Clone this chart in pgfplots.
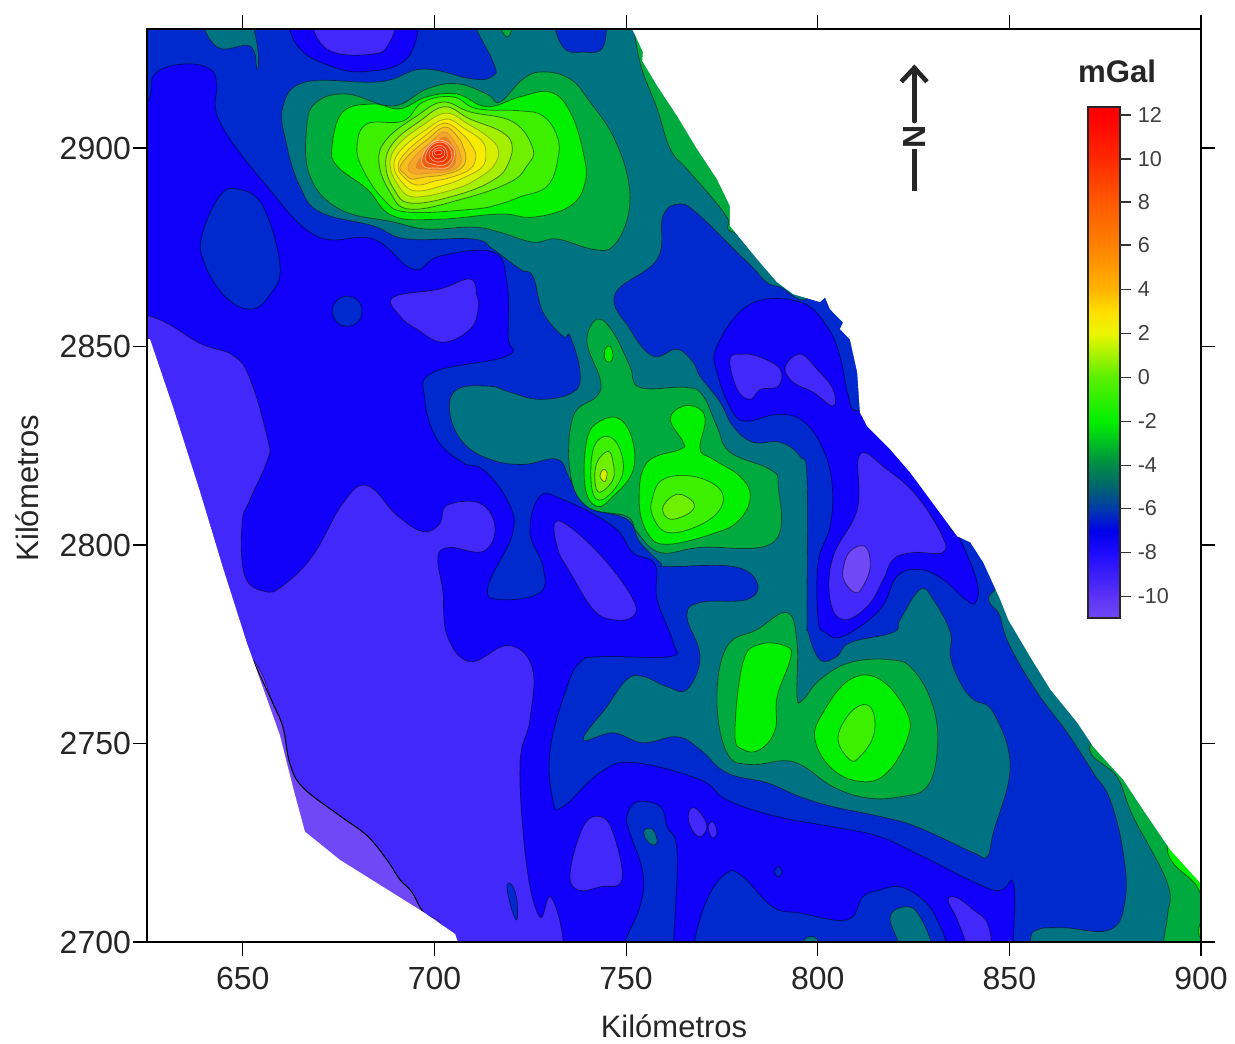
\documentclass[border=0pt]{standalone}
\usepackage{pgfplots}
\pgfplotsset{compat=1.18}
\usepackage{fontspec}
\setmainfont{Liberation Sans}
\definecolor{vio2}{RGB}{112,72,245}
\definecolor{vio}{RGB}{66,40,250}
\definecolor{blu}{RGB}{16,0,250}
\definecolor{dkb}{RGB}{0,42,205}
\definecolor{tea}{RGB}{0,115,130}
\definecolor{gre}{RGB}{0,170,62}
\definecolor{bri}{RGB}{0,240,0}
\definecolor{lim}{RGB}{60,240,0}
\definecolor{r1}{RGB}{110,240,0}
\definecolor{r2}{RGB}{165,240,0}
\definecolor{r3}{RGB}{215,240,0}
\definecolor{r4}{RGB}{248,236,0}
\definecolor{r5}{RGB}{250,215,15}
\definecolor{r6}{RGB}{248,190,30}
\definecolor{r7}{RGB}{245,165,40}
\definecolor{r8}{RGB}{242,130,30}
\definecolor{r9}{RGB}{240,95,15}
\definecolor{r10}{RGB}{240,65,5}
\definecolor{r11}{RGB}{240,50,0}
\definecolor{r12}{RGB}{240,40,0}
\definecolor{r13}{RGB}{245,30,0}
\colorlet{oli}{olive!65!black}
\pgfdeclareverticalshading{grav}{100bp}{
 rgb(0bp)=(.44,.28,.96); rgb(25bp)=(.44,.28,.96);
 rgb(27.1bp)=(.353,.196,.961); rgb(31.4bp)=(.118,.039,1); rgb(33.5bp)=(0,0,.922);
 rgb(35.7bp)=(0,.235,.667); rgb(37.8bp)=(0,.392,.431); rgb(40bp)=(0,.549,.275);
 rgb(44.2bp)=(0,.941,0); rgb(48.5bp)=(.353,.941,0); rgb(52.8bp)=(.922,.961,0);
 rgb(54.9bp)=(1,.882,0); rgb(57.1bp)=(1,.706,0); rgb(61.3bp)=(1,.51,0);
 rgb(65.6bp)=(1,.353,0); rgb(69.9bp)=(1,.157,0); rgb(74.1bp)=(1,0,0);
 rgb(75bp)=(1,0,0); rgb(100bp)=(1,0,0)}
\newcommand\R[3][black]{\addplot[fill=#2,draw=#1,draw opacity=.5,line width=.4pt,smooth cycle,tension=.68] coordinates {#3};}
\begin{document}
\begin{tikzpicture}
\useasboundingbox (-73.5pt,-50.5pt) rectangle (544pt,471pt);
\begin{axis}[
  at={(0,0)},anchor=south west,scale only axis,width=527pt,height=456.5pt,
  xmin=625,xmax=900,ymin=2700,ymax=2930,
  axis on top,no marks,
  xtick={650,700,750,800,850,900},ytick={2700,2750,2800,2850,2900},
  tick align=outside,major tick length=7pt,
  xtick pos=both,ytick pos=both,xticklabel pos=bottom,yticklabel pos=left,
  tick style={black,line width=.6pt},axis line style={line width=.6pt},
  /pgf/number format/assume math mode=true,
  /pgf/number format/1000 sep={},
  tick label style={font=\fontsize{16}{18}\selectfont,text=black!85},
  x tick label style={yshift=-2pt},
  y tick label style={xshift=2.5pt},
  xlabel={Kilómetros},ylabel={Kilómetros},
  label style={font=\fontsize{15.5}{18}\selectfont,text=black!85,inner sep=0pt},
  x label style={at={(axis description cs:0.5,-0.0925)},anchor=center},
  y label style={at={(axis description cs:-0.1139,0.497)},anchor=center},
]
% base
\addplot[fill=blu,draw=none] coordinates {(620,2695)(905,2695)(905,2935)(620,2935)} -- cycle;
% violet main
\R{vio}{(600,2862)(625,2857.9)(638.8,2850.8)(647.4,2847.8)(651.9,2841.8)(656.5,2826.6)(656.5,2821.6)(651.9,2811.5)(649.8,2805.4)(650.5,2792.3)(655.8,2788.3)(660.5,2789.8)(668.3,2797.4)(676.1,2810.5)(682.4,2815)(690.2,2807.5)(697,2803.4)(701.4,2805.4)(703.3,2810)(711.9,2810.5)(715.8,2804.4)(712.7,2798.4)(704,2799.4)(700.9,2796.9)(702.2,2788.3)(703.3,2777.2)(709.3,2770.6)(719.2,2774.7)(725.5,2769.1)(724.9,2756)(722.3,2744.2)(724.1,2718.9)(727.5,2706.3)(730.2,2711.4)(733.3,2702.3)(733.5,2690)(733,2680)(600,2680)}
% lightest strip
\R[black]{vio2}{(652.6,2771.1)(657.9,2760)(660.5,2754)(662.3,2744.9)(665.7,2738.9)(675.3,2731.8)(682.4,2726.8)(687.6,2720.7)(691,2715.7)(694.1,2712.6)(697,2707.6)(701.4,2703)(690,2690)(640,2700)(640,2780)}
\addplot[black,line width=.45pt,smooth,tension=.6] coordinates {(652.6,2771.1)(657.9,2760)(660.5,2754)(662.3,2744.9)(665.7,2738.9)(675.3,2731.8)(682.4,2726.8)(687.6,2720.7)(691,2715.7)(694.1,2712.6)(697,2707.6)(701.4,2703)};
\R{dkb}{(718.9,2713.9)(720.2,2714.4)(721.5,2710.6)(721.5,2705.6)(720.2,2708.1)}
% dark blue, main
\R{dkb}{(600,2910)(623,2910.4)(627,2918.7)(634.9,2921.2)(641.4,2919.9)(643.2,2916.2)(644,2906.6)(656.3,2890.4)(669.3,2877.8)(684,2877.1)(694.4,2869.5)(701.4,2872.8)(715.3,2873.8)(718.9,2866.2)(719.2,2852.6)(718.9,2847.6)(699.6,2843.5)(697.5,2836.7)(700.7,2826.6)(707.4,2820.8)(712.7,2819)(718.9,2811.5)(720.5,2803.2)(714,2789.6)(717.1,2786.3)(727.5,2788)(728.3,2794.6)(724.9,2803.2)(727.5,2812.3)(733.5,2811.5)(746.6,2804.7)(751.8,2798.1)(757.6,2795.1)(758.1,2786.3)(762.3,2775.4)(761.5,2771.9)(743.2,2771.9)(738,2770.4)(734.6,2764.3)(730.2,2748.5)(730.9,2735.8)(733.5,2734.1)(743.2,2742.7)(751.8,2745.2)(769.3,2740.9)(776.3,2735.8)(789.4,2731.6)(804,2729)(816.3,2726.5)(827.5,2721.5)(845.8,2713.1)(851,2714.9)(851,2698)(851,2680)(930,2680)(930,2960)(600,2960)}
% bright blue windows
\R{blu}{(661,2945)(661,2935)(664.9,2925)(675.3,2919.9)(683.2,2919.4)(691,2921.2)(694.9,2926.3)(696.2,2935)(696.2,2945)}
\R{blu}{(773.7,2850.1)(774,2842.5)(777.9,2833.4)(781.6,2831.2)(789.4,2832.9)(796.2,2831.2)(801.4,2824.1)(803.8,2814.8)(803.2,2804.7)(800.1,2795.6)(800.1,2781.2)(801.9,2778)(806.6,2777)(816.3,2783.8)(820.7,2792.1)(826.7,2793.8)(832.7,2791.3)(838.5,2786.3)(841.1,2785.5)(841.6,2790.6)(837.2,2801.4)(834.6,2805.2)(842,2812)(822,2838)(810.6,2833.8)(807.9,2838)(805.8,2847.6)(802.4,2855.1)(795.4,2861.2)(782.4,2860.7)}
% violet
\R{vio}{(666.7,2940)(666.7,2935)(671.9,2925)(684,2923.7)(688.4,2926.8)(691,2935)(691,2940)}
\R{vio}{(777.1,2846.8)(780.5,2848.1)(785,2847.3)(790.2,2844.3)(789.7,2840)(785,2839.2)(782.4,2836.7)(779,2839.2)}
\R{vio}{(791.5,2844.8)(795.4,2848.1)(799.8,2844.3)(804,2839.2)(804,2835)(798.8,2838.5)(793.6,2841)}
\R{vio}{(811,2822.8)(818.1,2819)(825.9,2812.3)(832.5,2802.2)(832.5,2798.1)(824.9,2798.1)(819.7,2796.4)(817.1,2791.3)(812.9,2784.5)(806.6,2781.2)(803.2,2786.3)(804,2797.1)(810.3,2809)}
\R{vio2}{(806.6,2793.8)(808.4,2798.4)(812.4,2799.6)(813.7,2794.6)(811.8,2789.6)(809.8,2788)(807.1,2790.6)}
\R{vio}{(689.2,2862.4)(701.4,2864.5)(709.3,2867)(711.1,2862.7)(711.4,2859.4)(709.3,2854.4)(702.2,2851.1)(695.4,2854.4)(691,2857.7)}
\R{vio}{(731.5,2805.7)(736.2,2803.9)(745,2795.6)(751.8,2786.3)(751.8,2782)(746.6,2781.2)(741.4,2783.8)(735.4,2793.1)(732.2,2798.9)}
% dark blue patches on bright blue
\R{dkb}{(639.6,2878.8)(644,2887.9)(648.5,2889.7)(655.2,2885.4)(659.7,2870.3)(657,2863)(651.9,2859.4)(645,2863)(639.6,2872)}
\R{dkb}{(673.3,2858.9)(674.5,2861.6)(677.2,2862.7)(680,2861.6)(681.1,2858.9)(680,2856.2)(677.2,2855.1)(674.5,2856.2)}
\R{dkb}{(750.2,2731.6)(752.9,2735.3)(758.9,2734.1)(760.7,2729)(763.3,2722.5)(762.3,2698)(762,2685)(749,2685)(749.2,2698)(753.6,2708.8)(754.4,2717.4)(751,2727.5)}
\R{tea}{(754.9,2728.3)(757,2728.3)(758.1,2725.2)(756.8,2724.5)(754.9,2726.3)}
\R{dkb}{(767.5,2698)(771.1,2710.6)(776.3,2717.4)(780.5,2716.4)(788.3,2708.8)(795.4,2707.3)(807.7,2705.6)(811.8,2711.4)(816.3,2713.1)(821.5,2713.9)(827.5,2710.6)(831.1,2705.6)(833.8,2698)(834,2685)(767,2685)}
\R{tea}{(818.9,2706.3)(823.3,2708.9)(826.7,2706.3)(830.1,2698)(830,2690)(821,2690)(821.5,2698)}
\R{tea}{(795.5,2698)(797,2701)(799.5,2701)(801,2698)}
\R{vio}{(834,2710.6)(836.4,2711.1)(840.6,2708.1)(844.2,2704.8)(845.5,2698)(845.5,2690)(839,2690)(839,2698)(836.4,2705.6)}
\R{vio}{(735.4,2717.4)(738.8,2729)(743.2,2731.6)(746.6,2727.5)(748.9,2715.7)(743.2,2713.9)(737.5,2713.1)}
\R{vio}{(766.2,2731.6)(767.2,2733.8)(769.3,2732.6)(771.1,2729)(769.3,2726.5)(767.2,2728.3)}
\R{vio}{(771.4,2729)(772.7,2730.3)(773.7,2727.5)(772.4,2726.3)}
\R{dkb}{(788.7,2717.7)(789.7,2719)(790.7,2717.7)(789.7,2716.4)}
% teal
\R{tea}{(638,2940)(638,2935)(643.2,2925.5)(651.9,2925.7)(653.7,2919.9)(653.9,2925)(651.9,2935)(651.9,2940)}
\R{tea}{(708.7,2945)(708.7,2935)(715.3,2921.7)(715.3,2918.2)(710,2917.4)(697,2919.9)(685.8,2916.7)(666.7,2916.7)(660.5,2910.6)(661.5,2900.5)(664.9,2890.4)(670.1,2883.9)(684,2880.4)(692.8,2877.1)(710,2877.1)(715.3,2874.5)(722.3,2869.5)(725.7,2867.7)(728.3,2858.7)(733.5,2852.6)(735.4,2852.6)(738,2843.5)(736.2,2838.5)(727.5,2836.7)(719.7,2838.5)(714.5,2840)(705.9,2839.2)(704,2833.4)(707.4,2825.9)(714.5,2821.6)(723.1,2820.3)(732,2821.6)(735.4,2816.5)(739.8,2809.7)(750.2,2806.5)(753.6,2800.7)(758.9,2795.6)(760.7,2794.6)(777.9,2794.6)(784.2,2790.6)(781.6,2786.3)(769.3,2785.5)(765.9,2782)(769.3,2771.9)(765.9,2763.6)(760.7,2764.3)(754.4,2766.9)(750.2,2766.1)(745,2759.3)(738.8,2751)(746.6,2752.7)(754.4,2750.2)(763.3,2751.7)(769.3,2748.5)(776.3,2742.6)(786.8,2740.1)(795.4,2736.6)(804,2734.1)(816.3,2731.6)(825.9,2729)(840.6,2722.5)(844.2,2721.5)(845.8,2727.5)(850.2,2744.2)(845.8,2757.8)(840.6,2761.1)(837.2,2765.3)(834.6,2771.9)(834.6,2778)(830.1,2786.3)(826.7,2788.8)(821.5,2781.2)(819.7,2778)(808.4,2775.4)(805,2771.9)(800.6,2771.1)(797.5,2778)(797.2,2783)(797.2,2816.5)(795.4,2822.3)(790.2,2825.9)(783.1,2825.9)(777.9,2829.9)(774.5,2836)(769.3,2842.5)(767.5,2846)(763.3,2849.3)(757,2847.6)(751,2854.4)(747.1,2863.2)(758.1,2872)(759.6,2882.9)(764.1,2885.9)(769.3,2882.9)(781.6,2871.3)(789.4,2865.2)(800,2870)(800,2945)}
\R{dkb}{(730.2,2940)(730.2,2935)(733.5,2925.5)(738.8,2924.2)(744,2925.5)(745,2935)(745,2940)}
\R{gre}{(715.3,2940)(715.3,2935)(719,2928)(721.4,2935)(721.4,2940)}
% SE strips
\R{tea}{(846.3,2788.8)(847.6,2782)(850.2,2774.4)(857.3,2762.8)(865.1,2752.7)(871.9,2742.6)(876.3,2735.8)(879.7,2722.5)(880.2,2710.6)(876.3,2703.1)(864,2703.6)(857.3,2703.1)(855.4,2700)(855.4,2690)(855,2680)(930,2680)(930,2800)(870,2800)}
\R{gre}{(871.1,2749.7)(878.1,2741.6)(882.3,2731.6)(891.2,2714.9)(891.2,2706.3)(890.1,2698)(890,2680)(930,2680)(930,2760)(885,2762)}
\R{bri}{(891.2,2724)(899,2713.9)(900.6,2708)(902,2700)(930,2700)(930,2740)(900,2740)}
\R{gre}{(751.6,2945)(751.6,2935)(753.6,2921.7)(758.1,2909.9)(761.5,2899.8)(765.9,2894.7)(772.7,2887.2)(776.6,2882.1)(777.6,2879)(790,2878)(800,2900)(775,2945)}
% top anomaly
\R{gre}{(666.7,2905.6)(669.3,2911.6)(677.2,2913.6)(689.2,2910.6)(698,2914.9)(705.9,2916.2)(713.7,2913.6)(717.1,2911.6)(723.1,2917.4)(728.3,2919.2)(735.4,2917.4)(740.6,2911.6)(746.6,2903)(750.5,2892.2)(750.5,2882.9)(746.6,2875.3)(741.4,2874.5)(732,2877.1)(725.7,2876.3)(717.1,2878.8)(710,2880.1)(698,2879.6)(689.2,2881.4)(675.3,2884.6)(667.5,2893)}
\R{bri}{(673.3,2900.5)(676.1,2909.1)(684,2911.1)(691,2909.9)(698,2912.9)(705.9,2913.6)(713.7,2910.4)(722.3,2912.9)(730.2,2914.1)(735.4,2909.1)(738.8,2899)(739.3,2891.4)(735.4,2885.4)(725.7,2882.6)(717.1,2883.4)(701.4,2882.1)(689.2,2882.9)(682.4,2889.7)(674.6,2895.5)}
\R{lim}{(679.8,2900.5)(682.4,2906.1)(691.8,2906.8)(697,2911.6)(704.8,2912.9)(711.1,2909.9)(722.3,2909.4)(728.3,2908.1)(732,2903)(732.2,2897.2)(729.4,2890.4)(722.3,2887.7)(717.1,2885.9)(710,2884.6)(692.8,2883.9)(686.6,2887.2)(681.3,2894.7)}
\R{r1}{(685.5,2896.5)(687.6,2902.3)(695.4,2908.1)(702.2,2911.6)(709.3,2909.1)(720.5,2906.6)(725.7,2899.8)(724.1,2895.5)(719.7,2891.4)(707.4,2887.2)(693.6,2884.6)(688.4,2888.9)}
\R{r2}{(687.3,2896)(689.4,2901.5)(696.2,2906.8)(702.7,2910.4)(709.3,2907.3)(717.1,2904.3)(720.2,2901)(719.2,2896)(715.8,2892.2)(706.7,2888.4)(694.1,2886.1)(689.4,2889.7)}
\R[oli]{r3}{(688.4,2896)(690.5,2900.8)(696.7,2905.6)(703,2908.8)(708.7,2906.1)(714,2902.8)(716.6,2899.8)(715.8,2896)(711.9,2892.7)(705.4,2889.7)(694.7,2887.7)(690.5,2890.7)}
\R[oli]{r4}{(689.4,2895.7)(691.5,2899.8)(697.3,2904.3)(703,2907.3)(708,2904.8)(712.4,2901.8)(713.4,2898.5)(712.4,2895.2)(708,2892.7)(702.7,2890.7)(695.2,2889.2)(691.3,2891.7)}
\R[oli]{r5}{(690.5,2895.5)(692.6,2899)(697.8,2903.3)(702.7,2906.3)(707.2,2903.6)(709.8,2900.5)(710.8,2897.8)(709.3,2894.7)(704.6,2892.7)(700.1,2891.7)(695.4,2890.7)(692,2892.7)}
\R[oli]{r6}{(691,2895.2)(693.6,2898.5)(698.3,2902.3)(702.7,2905.3)(706.1,2902.8)(707.7,2899.8)(708.2,2897.2)(706.7,2894.7)(702,2893.2)(697.5,2892.7)(694.1,2892.2)(692.3,2893.5)}
\R[brown]{r7}{(693.1,2895.2)(695.2,2898.3)(698.8,2901.3)(702.5,2904.1)(705.3,2901.5)(706.7,2898.5)(706.7,2896)(704,2894.2)(698.8,2893.7)(694.7,2893.5)}
\R[brown]{r8}{(695.2,2895.2)(697.3,2898.5)(699.9,2900.8)(702.5,2902.8)(704.6,2900.8)(705.6,2898.5)(705.1,2895.7)(702.7,2894.5)(698.3,2894.7)}
\R[white]{r9}{(696.7,2897.2)(698.3,2900.3)(701.4,2902)(704.6,2900.3)(705.1,2897.8)(703.5,2895.2)(700.1,2895)(697.5,2895.2)}
\R[white]{r10}{(697.8,2898.5)(699.4,2900.8)(702,2901.5)(704.1,2899.8)(704.3,2897.2)(702.2,2895.7)(699.4,2896)(697.8,2896.7)}
\R[white]{r11}{(698.6,2898.8)(700.4,2900.5)(702.2,2900.5)(703.3,2899)(703,2897.2)(701.2,2896.5)(699.4,2897)}
\R[white]{r12}{(699.4,2899)(700.9,2900)(702.2,2899.8)(702.7,2898.5)(701.7,2897.5)(700.1,2897.5)}
\R[white]{r13}{(699.9,2899)(701.2,2899.5)(702,2899)(701.4,2898.3)(700.4,2898.3)}
% middle anomaly
\R{gre}{(742.4,2856.9)(746.6,2853.6)(751,2845)(753.6,2839.7)(765.9,2839.7)(770.1,2837.5)(773.7,2829.9)(777.1,2823.4)(787.6,2819)(789.7,2814.8)(788.4,2800.7)(769.3,2799.4)(758.9,2798.1)(752.9,2803.2)(750.2,2807.2)(739.8,2809.7)(735.4,2818.3)(736.2,2832.4)(742.4,2837.5)(743.2,2841.8)(739.8,2851.1)}
\R{bri}{(744.5,2849.3)(745.8,2850.1)(746.6,2847.6)(745.8,2846.1)(744.5,2846.8)}
\R{bri}{(739.3,2814.8)(739.8,2826.6)(743.2,2831.2)(748.4,2831.7)(751.8,2825.9)(751.6,2818.3)(746.6,2812.3)(742.4,2809.7)}
\R{lim}{(741.1,2814)(741.4,2824.1)(745,2827.4)(748.4,2824.1)(748.9,2817.3)(744,2811.5)}
\R{r1}{(741.9,2815.8)(742.4,2820.8)(745.3,2823.6)(746.6,2820.8)(746.6,2816.5)(743.2,2813.3)}
\R{r3}{(743.2,2817.3)(744,2819)(745,2818.3)(744.5,2816)}
\R{bri}{(761.5,2831.7)(764.9,2835)(769.3,2834.2)(770.6,2830.9)(769.3,2824.1)(772.7,2821.6)(779.7,2817.3)(782.4,2812.3)(779.7,2806.5)(773.7,2803.2)(760.7,2800.2)(755.5,2803.2)(753.4,2811.5)(755.5,2820.8)(764.1,2824.1)(764.9,2825.9)}
\R{lim}{(756.8,2811.5)(759.6,2816.5)(767.5,2817.3)(774.5,2814)(774.5,2809)(768.5,2804.7)(760.7,2803.2)(757,2807.2)}
\R{r1}{(759.6,2809.5)(763.3,2812.8)(767.5,2810.8)(766.7,2808.2)(761.5,2806.5)}
% lower anomaly
\R{gre}{(773.7,2761.1)(776.3,2774.4)(784.2,2778.7)(792,2783)(794.6,2775.4)(794.6,2761.8)(796.2,2761.1)(800.6,2766.1)(808.4,2770.4)(818.9,2771.1)(824.9,2768.6)(830.1,2759.3)(831.2,2748.5)(828.5,2739.1)(821.5,2736.6)(812.9,2736.3)(804,2739.1)(793.6,2745.4)(782.4,2744.7)(776.3,2747.7)}
\R{bri}{(778.4,2752.7)(780.5,2770.4)(785,2775)(792,2774.4)(792.8,2771.1)(789.4,2761.8)(788.9,2753.5)(785,2748.5)(780.5,2748.5)}
\R{bri}{(799.3,2751)(801.4,2757.8)(808.4,2766.1)(816.3,2766.1)(823.3,2757.8)(823.3,2751)(818.1,2742.7)(811.8,2740.4)(804,2743.4)}
\R{lim}{(805.3,2751)(807.7,2756.8)(811.8,2759.8)(814.5,2757.8)(814.5,2751.8)(811,2746.7)(808.4,2745.9)}
% outside of the survey: white
\addplot[fill=white,draw=none] coordinates {(751.6,2930)(754.4,2924.2)(754.2,2922)(758.1,2915.7)(763.3,2908.1)(768.5,2899.8)(773.7,2892.2)(777.1,2885.4)(777.1,2880.4)(784.2,2872)(789.4,2866.2)(793.6,2863.2)(800.6,2861.2)(801.9,2862.4)(803.2,2859.4)(806.6,2856.1)(805.8,2854.4)(808.4,2851.8)(810.3,2843.5)(811,2833.4)(812.9,2829.9)(818.9,2824.1)(824.1,2818.3)(829.3,2811.5)(836.4,2802.2)(839.8,2800.7)(843.2,2795.6)(847.6,2786.3)(849.7,2781.2)(855.4,2771.9)(860.7,2763.6)(867.7,2755.3)(871.9,2749.2)(879.7,2740.9)(884.9,2733.3)(892,2723.2)(899.8,2714.9)(905,2714.9)(905,2940)(751.6,2940)} -- cycle;
\addplot[fill=white,draw=none] coordinates {(625.8,2851.8)(631.8,2834.7)(638.8,2813.5)(644.8,2794.3)(651.1,2775.2)(654.5,2766.1)(659.7,2752)(663.1,2738.9)(666.2,2727.8)(675.3,2720.7)(697,2707.6)(705.4,2702)(706.1,2700)(706,2695)(620,2695)(620,2853)} -- cycle;
% north arrow
\draw[line width=2.3pt,black!85,line cap=round] (axis cs:825.2,2920.2)--(axis cs:825.2,2906.8);
\draw[line width=2.3pt,black!85,line join=miter] (axis cs:821.8,2916.7)--(axis cs:825.2,2920.2)--(axis cs:828.5,2916.7);
\draw[line width=2.3pt,black!85] (axis cs:825.2,2899.8)--(axis cs:825.2,2889.2);
\node[rotate=90,font=\fontsize{16}{18}\selectfont\bfseries,text=black!85] at (axis cs:825.2,2902.8) {N};
% colour bar
\node[font=\fontsize{15.6}{18}\selectfont\bfseries,text=black!85] at (axis cs:878.1,2919.4) {mGal};
\path[shading=grav] (axis cs:870.6,2781.7) rectangle (axis cs:878.9,2910.4);
\draw[line width=.9pt,black!85] (axis cs:870.6,2781.7) rectangle (axis cs:878.9,2910.4);
\foreach \p/\t in {116/12,160/10,203/8,246/6,290/4,334/2,378/0,422/-2,466/-4,509/-6,553/-8,597/-10}{
  \pgfmathsetmacro\yy{2937.6-.2522*\p}
  \edef\temp{\noexpand\draw[line width=.6pt,black!80] (axis cs:878.9,\yy)--(axis cs:881.8,\yy);
  \noexpand\node[anchor=west,inner sep=0pt,font=\noexpand\fontsize{10.8}{12}\noexpand\selectfont,text=black!75] at (axis cs:883.4,\yy) {\t};}
  \temp
}
\end{axis}
\end{tikzpicture}
\end{document}
